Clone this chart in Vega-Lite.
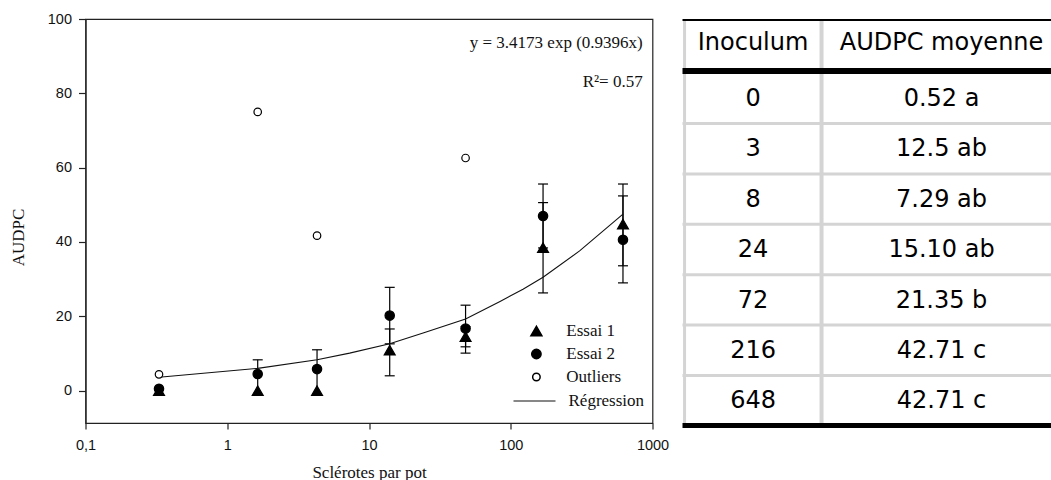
{
  "$schema": "https://vega.github.io/schema/vega-lite/v6.json",
  "background": "white",
  "padding": {"left": 8.5, "top": 10, "right": 0, "bottom": 0},
  "bounds": "flush",
  "spacing": 30,
  "config": {"view": {"stroke": null}, "font": "Liberation Sans"},
  "datasets": {
    "points": [
      {"x": 0.33, "series": "Essai 1", "audpc": 0},
      {"x": 1.64, "series": "Essai 1", "audpc": 0},
      {"x": 4.3, "series": "Essai 1", "audpc": 0},
      {"x": 14, "series": "Essai 1", "audpc": 10.9},
      {"x": 48, "series": "Essai 1", "audpc": 14.5},
      {"x": 169, "series": "Essai 1", "audpc": 38.5},
      {"x": 619, "series": "Essai 1", "audpc": 44.8},
      {"x": 0.33, "series": "Essai 2", "audpc": 0.5},
      {"x": 1.64, "series": "Essai 2", "audpc": 4.5},
      {"x": 4.3, "series": "Essai 2", "audpc": 5.8},
      {"x": 14, "series": "Essai 2", "audpc": 20.2},
      {"x": 48, "series": "Essai 2", "audpc": 16.7},
      {"x": 169, "series": "Essai 2", "audpc": 47.0},
      {"x": 619, "series": "Essai 2", "audpc": 40.6},
      {"x": 0.33, "series": "Outliers", "audpc": 4.4},
      {"x": 1.64, "series": "Outliers", "audpc": 75.0},
      {"x": 4.3, "series": "Outliers", "audpc": 41.7},
      {"x": 48, "series": "Outliers", "audpc": 62.6}
    ],
    "errors": [
      {"x": 1.64, "series": "Essai 2", "low": 0.7, "high": 8.3},
      {"x": 4.3, "series": "Essai 2", "low": 0.6, "high": 11.0},
      {"x": 14, "series": "Essai 1", "low": 4.0, "high": 16.6},
      {"x": 14, "series": "Essai 2", "low": 12.6, "high": 27.8},
      {"x": 48, "series": "Essai 1", "low": 11.8, "high": 17.2},
      {"x": 48, "series": "Essai 2", "low": 10.1, "high": 23.0},
      {"x": 169, "series": "Essai 1", "low": 26.3, "high": 50.6},
      {"x": 169, "series": "Essai 2", "low": 38.4, "high": 55.6},
      {"x": 619, "series": "Essai 1", "low": 33.6, "high": 55.6},
      {"x": 619, "series": "Essai 2", "low": 29.0, "high": 52.4}
    ],
    "fit": [
      {"x": 0.33, "y": 3.6},
      {"x": 1.64, "y": 6.0},
      {"x": 4.3, "y": 8.3},
      {"x": 7.3, "y": 10.1},
      {"x": 14, "y": 12.6},
      {"x": 25, "y": 15.7},
      {"x": 48, "y": 19.3},
      {"x": 84, "y": 24.0},
      {"x": 122, "y": 27.3},
      {"x": 169, "y": 30.5},
      {"x": 306, "y": 37.6},
      {"x": 619, "y": 47.5}
    ],
    "table": [
      {"row": 0, "inoculum": "0", "audpc": "0.52 a"},
      {"row": 1, "inoculum": "3", "audpc": "12.5 ab"},
      {"row": 2, "inoculum": "8", "audpc": "7.29 ab"},
      {"row": 3, "inoculum": "24", "audpc": "15.10 ab"},
      {"row": 4, "inoculum": "72", "audpc": "21.35 b"},
      {"row": 5, "inoculum": "216", "audpc": "42.71 c"},
      {"row": 6, "inoculum": "648", "audpc": "42.71 c"}
    ]
  },
  "hconcat": [
    {
      "width": 567,
      "height": 404,
      "view": {"stroke": "#222", "strokeWidth": 1.2},
      "layer": [
        {
          "data": {"name": "errors"},
          "mark": {"type": "rule", "color": "black", "strokeWidth": 1.2},
          "encoding": {
            "x": {
              "field": "x", "type": "quantitative",
              "scale": {"type": "log", "domain": [0.1, 1000], "nice": false},
              "axis": {
                "title": "Sclérotes par pot",
                "values": [0.1, 1, 10, 100, 1000],
                "labelExpr": "datum.value < 0.5 ? '0,1' : format(datum.value, 'd')",
                "grid": false, "tickSize": 6, "tickColor": "#222", "tickWidth": 1.2,
                "domainColor": "#222", "domainWidth": 1.2,
                "labelFont": "Liberation Sans", "labelFontSize": 14.5, "labelColor": "#111",
                "labelPadding": 9, "labelFlush": false, "labelOverlap": false,
                "titleFont": "Liberation Serif", "titleFontSize": 17, "titleFontWeight": "normal",
                "titleColor": "#111", "titleY": 49, "titleBaseline": "middle"
              }
            },
            "y": {
              "field": "low", "type": "quantitative",
              "scale": {"domain": [-8.7, 100], "nice": false, "zero": false},
              "axis": {
                "title": "AUDPC",
                "values": [0, 20, 40, 60, 80, 100],
                "grid": false, "tickSize": 7, "tickColor": "#222", "tickWidth": 1.2,
                "domainColor": "#222", "domainWidth": 1.2,
                "labelFont": "Liberation Sans", "labelFontSize": 14.5, "labelColor": "#111",
                "labelPadding": 7,
                "titleFont": "Liberation Serif", "titleFontSize": 17, "titleFontWeight": "normal",
                "titleColor": "#111", "titleX": -67, "titleY": 218, "titleAngle": -90,
                "titleAlign": "center", "titleBaseline": "middle"
              }
            },
            "y2": {"field": "high"}
          }
        },
        {
          "data": {"name": "errors"},
          "mark": {"type": "tick", "orient": "horizontal", "size": 10, "thickness": 1.2, "color": "black", "opacity": 1},
          "encoding": {
            "x": {"field": "x", "type": "quantitative"},
            "y": {"field": "high", "type": "quantitative"}
          }
        },
        {
          "data": {"name": "errors"},
          "transform": [{"filter": "datum.low >= 1"}],
          "mark": {"type": "tick", "orient": "horizontal", "size": 10, "thickness": 1.2, "color": "black", "opacity": 1},
          "encoding": {
            "x": {"field": "x", "type": "quantitative"},
            "y": {"field": "low", "type": "quantitative"}
          }
        },
        {
          "data": {"name": "fit"},
          "mark": {"type": "line", "strokeWidth": 1.1},
          "encoding": {
            "x": {"field": "x", "type": "quantitative"},
            "y": {"field": "y", "type": "quantitative"},
            "stroke": {
              "datum": "Régression", "type": "nominal",
              "scale": {"domain": ["Régression"], "range": ["#111"]},
              "legend": {"title": null, "orient": "none", "legendX": 427, "legendY": 360, "padding": 0, "labelOffset": 12, "labelFont": "Liberation Serif", "labelFontSize": 17, "labelColor": "#111", "labelBaseline": "middle", "symbolType": "stroke", "symbolSize": 1764, "symbolStrokeWidth": 1.1, "symbolStrokeColor": "#111"}
            }
          }
        },
        {
          "data": {"name": "points"},
          "mark": {"type": "point", "filled": true, "stroke": "black", "strokeWidth": 1.2, "opacity": 1},
          "encoding": {
            "x": {"field": "x", "type": "quantitative"},
            "y": {"field": "audpc", "type": "quantitative"},
            "shape": {
              "field": "series", "type": "nominal",
              "scale": {"domain": ["Essai 1", "Essai 2", "Outliers"], "range": ["triangle-up", "circle", "circle"]},
              "legend": {"title": null, "orient": "none", "legendX": 442.4, "legendY": 300.5, "clipHeight": 23, "rowPadding": 0, "padding": 0, "labelOffset": 21.4, "labelFont": "Liberation Serif", "labelFontSize": 17, "labelColor": "#111", "labelBaseline": "middle", "encode": {"symbols": {"update": {"stroke": {"value": "black"}, "strokeWidth": {"value": 1.2}, "opacity": {"value": 1}}}}}
            },
            "fill": {
              "field": "series", "type": "nominal",
              "scale": {"domain": ["Essai 1", "Essai 2", "Outliers"], "range": ["black", "black", "white"]},
              "legend": {"title": null, "orient": "none", "legendX": 442.4, "legendY": 300.5, "clipHeight": 23, "rowPadding": 0, "padding": 0, "labelOffset": 21.4, "labelFont": "Liberation Serif", "labelFontSize": 17, "labelColor": "#111", "labelBaseline": "middle", "encode": {"symbols": {"update": {"stroke": {"value": "black"}, "strokeWidth": {"value": 1.2}, "opacity": {"value": 1}}}}}
            },
            "size": {
              "field": "series", "type": "nominal",
              "scale": {"domain": ["Essai 1", "Essai 2", "Outliers"], "range": [120, 56, 66]},
              "legend": {"title": null, "orient": "none", "legendX": 442.4, "legendY": 300.5, "clipHeight": 23, "rowPadding": 0, "padding": 0, "labelOffset": 21.4, "labelFont": "Liberation Serif", "labelFontSize": 17, "labelColor": "#111", "labelBaseline": "middle", "encode": {"symbols": {"update": {"stroke": {"value": "black"}, "strokeWidth": {"value": 1.2}, "opacity": {"value": 1}}}}}
            }
          }
        },
        {
          "data": {"values": [{}]},
          "mark": {"type": "text", "text": ["y = 3.4173 exp (0.9396x)", "R²= 0.57"], "align": "right", "baseline": "alphabetic", "lineHeight": 39, "font": "Liberation Serif", "fontSize": 17, "color": "#111"},
          "encoding": {"x": {"datum": 853}, "y": {"datum": 92.2}}
        }
      ]
    },
    {
      "width": 370,
      "height": 408,
      "view": {"stroke": null},
      "layer": [
        {
          "data": {"name": "table"},
          "transform": [{"filter": "datum.row < 6"}],
          "mark": {"type": "rule", "color": "#d4d4d4", "strokeWidth": 3, "yOffset": 24.5},
          "encoding": {
            "x": {"datum": -0.015, "type": "quantitative", "scale": {"domain": [-0.015, 2.686], "nice": false, "zero": false}, "axis": null},
            "x2": {"datum": 2.686},
            "y": {"field": "row", "type": "quantitative", "scale": {"domain": [-1.59, 6.51], "reverse": true, "nice": false, "zero": false}, "axis": null}
          }
        },
        {
          "data": {"values": [{}]},
          "mark": {"type": "rule", "color": "#d4d4d4", "strokeWidth": 3},
          "encoding": {"x": {"datum": 0}, "y": {"datum": -1.57}, "y2": {"datum": 6.48}}
        },
        {
          "data": {"values": [{}]},
          "mark": {"type": "rule", "color": "#d4d4d4", "strokeWidth": 4},
          "encoding": {"x": {"datum": 1}, "y": {"datum": -1.57}, "y2": {"datum": 6.48}}
        },
        {
          "data": {"values": [{}]},
          "mark": {"type": "rule", "color": "black", "strokeWidth": 2},
          "encoding": {"x": {"datum": -0.015}, "x2": {"datum": 2.686}, "y": {"datum": -1.57}}
        },
        {
          "data": {"values": [{}]},
          "mark": {"type": "rule", "color": "black", "strokeWidth": 6},
          "encoding": {"x": {"datum": -0.015}, "x2": {"datum": 2.686}, "y": {"datum": -0.558}}
        },
        {
          "data": {"values": [{}]},
          "mark": {"type": "rule", "color": "black", "strokeWidth": 5},
          "encoding": {"x": {"datum": -0.015}, "x2": {"datum": 2.686}, "y": {"datum": 6.48}}
        },
        {
          "data": {"values": [{}]},
          "mark": {"type": "text", "text": "Inoculum", "font": "DejaVu Sans", "fontSize": 24, "color": "black", "align": "center", "baseline": "middle"},
          "encoding": {"x": {"datum": 0.5}, "y": {"datum": -1.114}}
        },
        {
          "data": {"values": [{}]},
          "mark": {"type": "text", "text": "AUDPC moyenne", "font": "DejaVu Sans", "fontSize": 24, "color": "black", "align": "center", "baseline": "middle", "clip": true},
          "encoding": {"x": {"datum": 1.876}, "y": {"datum": -1.114}}
        },
        {
          "data": {"name": "table"},
          "mark": {"type": "text", "font": "DejaVu Sans", "fontSize": 24, "color": "black", "align": "center", "baseline": "middle"},
          "encoding": {"x": {"datum": 0.5}, "y": {"field": "row", "type": "quantitative"}, "text": {"field": "inoculum"}}
        },
        {
          "data": {"name": "table"},
          "mark": {"type": "text", "font": "DejaVu Sans", "fontSize": 24, "color": "black", "align": "center", "baseline": "middle"},
          "encoding": {"x": {"datum": 1.876}, "y": {"field": "row", "type": "quantitative"}, "text": {"field": "audpc"}}
        }
      ]
    }
  ]
}
